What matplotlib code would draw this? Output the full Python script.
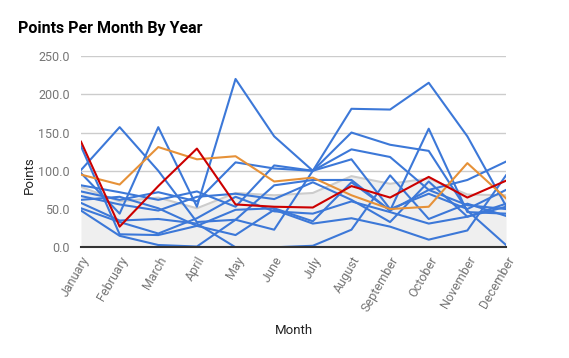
import matplotlib
matplotlib.use("Agg")
import matplotlib.pyplot as plt
import numpy as np

months = ["January", "February", "March", "April", "May", "June", "July",
          "August", "September", "October", "November", "December"]

# blue year series
blue_series = [
    [97, 44, 157, 53, 220, 145, 100, 181, 180, 215, 145, 54],
    [101, 157, 100, 33, 36, 81, 88, 88, 48, 155, 46, 44],
    [132, 17, 16, 28, 16, 49, 31, 38, 27, 10, 22, 94],
    [48, 15, 3, 1, 36, 23, 100, 150, 134, 126, 48, 3],
    [81, 72, 62, 73, 53, 107, 100, 128, 118, 75, 88, 112],
    [73, 62, 72, 60, 111, 103, 100, 115, 50, 70, 50, 75],
    [67, 56, 48, 66, 70, 63, 85, 62, 33, 86, 40, 57],
    [58, 35, 37, 31, 0, 0, 2, 23, 94, 37, 57, 41],
    [51, 33, 18, 38, 66, 47, 44, 60, 46, 31, 40, 53],
    [62, 66, 51, 28, 49, 51, 34, 85, 48, 75, 55, 50],
]
average = [79, 60, 65, 51, 71, 68, 71, 93, 83, 90, 69, 68]
red_series = [138, 27, 80, 129, 56, 53, 52, 80, 65, 92, 65, 87]
orange_series = [95, 82, 131, 115, 119, 86, 91, 68, 50, 53, 110, 64]

yticks = [0, 50, 100, 150, 200, 250]

plt.rcParams['font.family'] = ['Roboto', 'DejaVu Sans']

fig = plt.figure(figsize=(5.69, 3.58), dpi=100)
ax = fig.add_axes([81/569, 1-247.3/358, (506-81)/569, (247.3-56)/358])

x = np.arange(len(months))
ax.fill_between(x, 0, average, color='#efefef', lw=0, zorder=1)
ax.plot(x, average, color='#cccccc', lw=1.5, zorder=2)
for s in blue_series:
    ax.plot(x, s, color='#3c78d8', lw=1.5, zorder=3)
ax.plot(x, orange_series, color='#e69138', lw=1.5, zorder=4)
ax.plot(x, red_series, color='#cc0000', lw=1.5, zorder=5)

ax.set_xlim(0, len(months)-1)
ax.set_ylim(0, 250)
ax.set_yticks(yticks)
ax.set_yticklabels([f"{v:.1f}" for v in yticks])
ax.set_xticks(x)
ax.set_xticklabels(months, rotation=60, ha='right', rotation_mode='anchor')
ax.tick_params(axis='both', length=0, labelsize=9, labelcolor='#757575')
ax.tick_params(axis='y', pad=8)
ax.tick_params(axis='x', pad=5)
ax.grid(axis='y', color='#cccccc', lw=1)
ax.set_axisbelow(True)
for sp in ['top', 'right', 'left']:
    ax.spines[sp].set_visible(False)
ax.spines['bottom'].set_color('#333333')
ax.spines['bottom'].set_linewidth(1.5)
ax.spines['bottom'].set_zorder(6)

fig.text(18/569, 1-33/358, "Points Per Month By Year", fontsize=11.5,
         fontweight='bold', color='#000000', ha='left', va='baseline')
fig.text(29/569, 1-175/358, "Points", rotation=90, fontsize=9.5,
         color='#222222', ha='center', va='center')
fig.text(293.5/569, 1-331/358, "Month", fontsize=9.5, color='#222222',
         ha='center', va='center')

fig.savefig("out.png", dpi=100)
